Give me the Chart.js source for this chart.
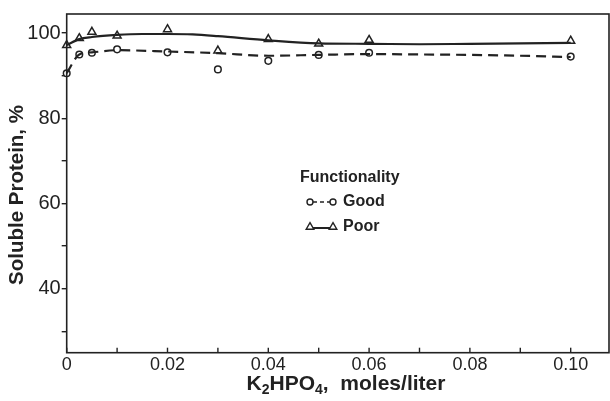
<!DOCTYPE html>
<html>
<head>
<meta charset="utf-8">
<script src="https://cdn.jsdelivr.net/npm/chart.js@4.4.1/dist/chart.umd.min.js"></script>
<style>
  html, body { margin: 0; padding: 0; background: #fff; }
  #wrap { width: 610px; height: 401px; }
</style>
</head>
<body>
<div id="wrap"><canvas id="chart" width="610" height="401"></canvas></div>
<script>
// K2HPO4 concentration (moles/liter) for the measured points
const concentrations = [0, 0.0025, 0.005, 0.01, 0.02, 0.03, 0.04, 0.05, 0.06, 0.10];
const goodValues = [90.6, 95.0, 95.4, 96.2, 95.5, 91.5, 93.5, 94.9, 95.4, 94.5];
const poorValues = [97.2, 98.8, 100.3, 99.4, 100.9, 95.9, 98.6, 97.5, 98.4, 98.2];

// hand-drawn fitted curves
const goodCurveX = [0, 0.0025, 0.005, 0.01, 0.02, 0.03, 0.04, 0.05, 0.06, 0.07, 0.08, 0.09, 0.10];
const goodCurveY = [90.6, 95.0, 95.5, 96.0, 95.7, 95.3, 94.7, 94.9, 95.1, 95.0, 94.9, 94.7, 94.4];
const poorCurveX = [0, 0.0025, 0.005, 0.01, 0.015, 0.02, 0.025, 0.03, 0.04, 0.05, 0.06, 0.07, 0.08, 0.09, 0.10];
const poorCurveY = [97.2, 98.6, 99.1, 99.6, 99.8, 99.8, 99.7, 99.3, 98.3, 97.6, 97.5, 97.4, 97.5, 97.6, 97.7];

const xTicks = [0, 0.01, 0.02, 0.03, 0.04, 0.05, 0.06, 0.07, 0.08, 0.09, 0.10];
const xTickLabels = ["0", "", "0.02", "", "0.04", "", "0.06", "", "0.08", "", "0.10"];
const yTicks = [30, 40, 50, 60, 70, 80, 90, 100];
const yTickLabels = ["", "40", "", "60", "", "80", "", "100"];

const INK = "#222";
const FONT = "'Liberation Sans', Arial, sans-serif";

const toPoints = (xs, ys) => xs.map((x, i) => ({ x, y: ys[i] }));

const framePlugin = {
  id: "frame",
  afterDraw(chart) {
    const { ctx, chartArea: a, scales } = chart;
    ctx.save();
    ctx.strokeStyle = INK;
    ctx.lineWidth = 1.6;
    ctx.strokeRect(a.left, a.top, a.right - a.left, a.bottom - a.top);

    // x ticks point inward
    ctx.lineWidth = 1.4;
    xTicks.forEach((v) => {
      const px = scales.x.getPixelForValue(v);
      ctx.beginPath();
      ctx.moveTo(px, a.bottom);
      ctx.lineTo(px, a.bottom - 5);
      ctx.stroke();
    });

    ctx.fillStyle = INK;

    // y title
    ctx.save();
    ctx.translate(17, 195);
    ctx.rotate(-Math.PI / 2);
    ctx.font = "bold 20.5px " + FONT;
    ctx.textAlign = "center";
    ctx.textBaseline = "middle";
    ctx.fillText("Soluble Protein, %", 0, 0);
    ctx.restore();

    // x title with subscripts
    const parts = [
      ["K", false], ["2", true], ["HPO", false], ["4", true], [",  moles/liter", false],
    ];
    const big = "bold 21px " + FONT;
    const small = "bold 14px " + FONT;
    let total = 0;
    parts.forEach(([t, sub]) => {
      ctx.font = sub ? small : big;
      total += ctx.measureText(t).width;
    });
    let x = 346 - total / 2;
    ctx.textAlign = "left";
    ctx.textBaseline = "alphabetic";
    parts.forEach(([t, sub]) => {
      ctx.font = sub ? small : big;
      ctx.fillText(t, x, sub ? 394 : 390);
      x += ctx.measureText(t).width;
    });

    // legend
    const draw = Chart.helpers.drawPoint;
    ctx.font = "bold 16px " + FONT;
    ctx.textBaseline = "middle";
    ctx.fillText("Functionality", 300, 178);
    ctx.fillText("Good", 343, 202);
    ctx.fillText("Poor", 343, 227);

    ctx.lineWidth = 1.5;
    ctx.setLineDash([4, 3]);
    ctx.beginPath();
    ctx.moveTo(313, 202);
    ctx.lineTo(330, 202);
    ctx.stroke();
    ctx.setLineDash([]);
    ctx.lineWidth = 2;
    ctx.beginPath();
    ctx.moveTo(312, 228);
    ctx.lineTo(332, 228);
    ctx.stroke();

    ctx.fillStyle = "#fff";
    ctx.lineWidth = 1.4;
    const circ = { pointStyle: "circle", radius: 3, rotation: 0, borderWidth: 1.4 };
    const tri = { pointStyle: "triangle", radius: 4.4, rotation: 0, borderWidth: 1.4 };
    draw(ctx, circ, 310, 202);
    draw(ctx, circ, 333, 202);
    draw(ctx, tri, 310, 227);
    draw(ctx, tri, 333, 227);
    ctx.restore();
  },
};

new Chart(document.getElementById("chart"), {
  type: "scatter",
  data: {
    datasets: [
      {
        label: "Good curve",
        data: toPoints(goodCurveX, goodCurveY),
        showLine: true,
        borderColor: INK,
        borderWidth: 2.2,
        borderDash: [10, 6],
        pointRadius: 0,
        cubicInterpolationMode: "monotone",
      },
      {
        label: "Poor curve",
        data: toPoints(poorCurveX, poorCurveY),
        showLine: true,
        borderColor: INK,
        borderWidth: 2.2,
        pointRadius: 0,
        cubicInterpolationMode: "monotone",
      },
      {
        label: "Good",
        data: toPoints(concentrations, goodValues),
        clip: false,
        pointStyle: "circle",
        pointRadius: 3.3,
        pointBorderWidth: 1.5,
        pointBorderColor: INK,
        pointBackgroundColor: "#fff",
      },
      {
        label: "Poor",
        data: toPoints(concentrations, poorValues),
        clip: false,
        pointStyle: "triangle",
        pointRadius: 4.6,
        pointBorderWidth: 1.5,
        pointBorderColor: INK,
        pointBackgroundColor: "#fff",
      },
    ],
  },
  options: {
    responsive: false,
    animation: false,
    devicePixelRatio: 1,
    layout: { autoPadding: false, padding: { top: 14, right: 1, left: 0, bottom: 0 } },
    plugins: {
      legend: { display: false },
      tooltip: { enabled: false },
    },
    scales: {
      x: {
        type: "linear",
        min: 0,
        max: 0.1076,
        afterBuildTicks: (scale) => {
          scale.ticks = xTicks.map((v) => ({ value: v }));
        },
        afterFit: (scale) => {
          scale.height = 48.3;
          scale.paddingLeft = 0;
          scale.paddingRight = 0;
        },
        grid: { display: false, drawTicks: false, tickLength: 0 },
        border: { display: false },
        ticks: {
          autoSkip: false,
          maxRotation: 0,
          padding: 2,
          color: INK,
          font: { family: FONT, size: 18 },
          callback: (v, i) => xTickLabels[i],
        },
      },
      y: {
        min: 25,
        max: 104.5,
        afterBuildTicks: (scale) => {
          scale.ticks = yTicks.map((v) => ({ value: v }));
        },
        afterFit: (scale) => {
          scale.width = 66.7;
        },
        grid: {
          drawOnChartArea: false,
          tickLength: 5,
          color: INK,
          lineWidth: 1.4,
        },
        border: { display: false },
        ticks: {
          padding: 1,
          color: INK,
          font: { family: FONT, size: 20 },
          callback: (v, i) => yTickLabels[i],
        },
      },
    },
  },
  plugins: [framePlugin],
});
</script>
</body>
</html>
